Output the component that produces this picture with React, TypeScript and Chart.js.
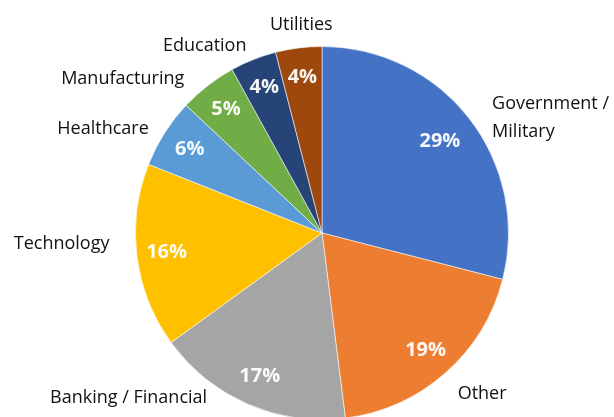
import React, { useEffect, useRef } from "react";
import { Chart, registerables } from "chart.js";

Chart.register(...registerables);

const categories = [
  "Government /\nMilitary",
  "Other",
  "Banking / Financial",
  "Technology",
  "Healthcare",
  "Manufacturing",
  "Education",
  "Utilities",
];
const shares = [29, 19, 17, 16, 6, 5, 4, 4];
const colors = [
  "#4472C4",
  "#ED7D31",
  "#A5A5A5",
  "#FFC000",
  "#5B9BD5",
  "#70AD47",
  "#264478",
  "#9E480E",
];

// small label nudges (style only), [dx, dy] per category
const labelNudge: [number, number][] = [
  [0, 0],
  [0, 7],
  [7, 0],
  [-9, -15],
  [0, 6],
  [-12, 8],
  [0, 4],
  [5, -5],
];

const FONT = "'Open Sans', 'DejaVu Sans', sans-serif";
const CANVAS_H = 450;

const labelPlugin = {
  id: "pieLabels",
  afterDatasetsDraw(chart: any) {
    const ctx = chart.ctx as CanvasRenderingContext2D;
    const meta = chart.getDatasetMeta(0);
    const total = shares.reduce((a, b) => a + b, 0);
    const maxY = 398;
    ctx.save();
    meta.data.forEach((arc: any, i: number) => {
      const p = arc.getProps(["x", "y", "startAngle", "endAngle", "outerRadius"], true);
      const mid = (p.startAngle + p.endAngle) / 2;
      const r = p.outerRadius;
      // percentage inside
      const f = i === 0 ? 0.8 : 0.84;
      const px = p.x + Math.cos(mid) * r * f;
      const py = p.y + Math.sin(mid) * r * f;
      ctx.fillStyle = "rgba(255,255,255,0.95)";
      ctx.font = `bold 20px ${FONT}`;
      ctx.textAlign = "center";
      ctx.textBaseline = "middle";
      ctx.fillText(Math.round((shares[i] / total) * 100) + "%", px, py);

      // category outside
      const R = r * 1.1;
      let lx = p.x + Math.cos(mid) * R;
      let ly = p.y + Math.sin(mid) * R;
      if (ly > maxY) {
        ly = maxY;
        const dy = maxY - p.y;
        const dx = Math.sqrt(Math.max(R * R - dy * dy, 0));
        lx = p.x + (Math.cos(mid) >= 0 ? dx : -dx);
      }
      const dxr = lx - p.x;
      let align: CanvasTextAlign = "center";
      if (Math.abs(dxr) > R * 0.2) align = dxr > 0 ? "left" : "right";
      lx += labelNudge[i][0];
      ly += labelNudge[i][1];
      ctx.fillStyle = "#111";
      ctx.font = `18px ${FONT}`;
      ctx.textAlign = align;
      const lines = categories[i].split("\n");
      const lh = 28;
      lines.forEach((ln, k) => {
        const yy = ly + (k - (lines.length - 1) / 2) * lh + (lines.length > 1 ? 11 : 0);
        ctx.fillText(ln, lx + (lines.length > 1 ? 8 : 0), yy);
      });
    });
    ctx.restore();
  },
};

export default function App() {
  const ref = useRef<HTMLCanvasElement | null>(null);
  useEffect(() => {
    if (!ref.current) return;
    const chart = new Chart(ref.current, {
      type: "pie",
      data: {
        labels: categories.map((c) => c.replace("\n", " ")),
        datasets: [
          {
            data: shares,
            backgroundColor: colors,
            borderColor: "rgba(255,255,255,0.55)",
            borderWidth: 1,
          },
        ],
      },
      options: {
        animation: false,
        responsive: false,
        layout: { padding: { top: 46, left: 135, right: 105, bottom: CANVAS_H - 420 } },
        plugins: { legend: { display: false }, tooltip: { enabled: false } },
      },
      plugins: [labelPlugin],
    });
    return () => chart.destroy();
  }, []);
  return (
    <div
      style={{
        position: "fixed",
        left: 0,
        top: 0,
        width: 614,
        height: 417,
        overflow: "hidden",
        background: "#fff",
      }}
    >
      <canvas ref={ref} width={614} height={CANVAS_H} style={{ width: 614, height: CANVAS_H, display: "block" }} />
    </div>
  );
}
